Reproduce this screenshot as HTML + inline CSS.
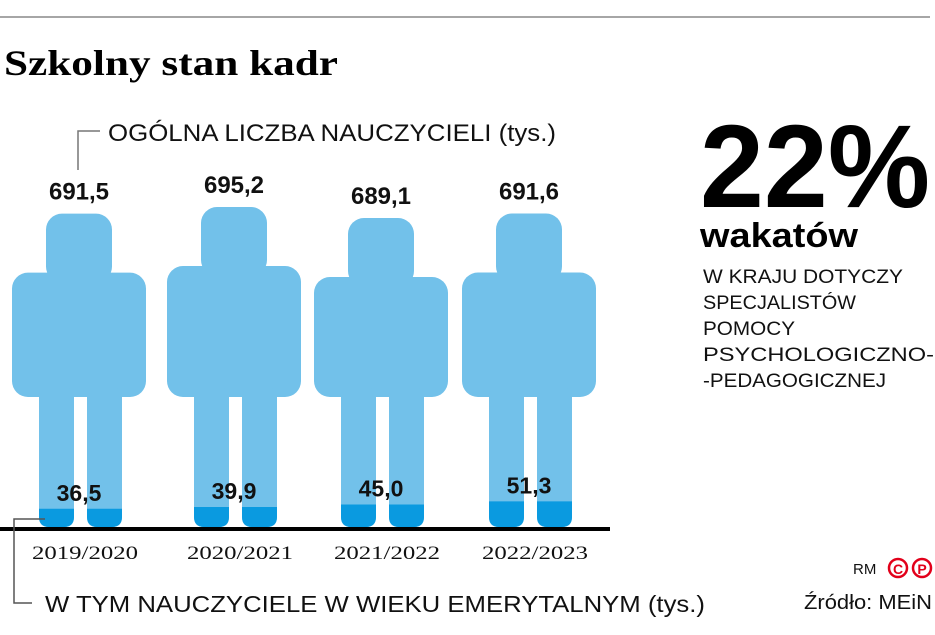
<!DOCTYPE html>
<html><head><meta charset="utf-8"><style>
body{margin:0;background:#fff;}
svg{display:block;font-family:"Liberation Sans",sans-serif;}
</style></head><body>
<svg width="935" height="635" viewBox="0 0 935 635">
<line x1="0" y1="17" x2="930" y2="17" stroke="#888" stroke-width="1.5"/>
<text x="4" y="75" font-family="Liberation Serif,serif" font-weight="bold" font-size="36" textLength="334" lengthAdjust="spacingAndGlyphs">Szkolny stan kadr</text>
<polyline points="78,170 78,131 100,131" fill="none" stroke="#777" stroke-width="1.5"/>
<text x="108" y="141" font-size="25" fill="#111" textLength="448" lengthAdjust="spacingAndGlyphs" style="display:none"></text>
<text x="108" y="141" font-size="24" fill="#111" textLength="448" lengthAdjust="spacingAndGlyphs">OGÓLNA LICZBA NAUCZYCIELI (tys.)</text>
<g id="figs"></g>
<line x1="0" y1="529" x2="610" y2="529" stroke="#000" stroke-width="4"/>
<polyline points="45,519 14,519 14,603 32,603" fill="none" stroke="#555" stroke-width="1.5"/>
<text x="45" y="612" font-size="23" fill="#111" textLength="660" lengthAdjust="spacingAndGlyphs">W TYM NAUCZYCIELE W WIEKU EMERYTALNYM (tys.)</text>
<text x="700" y="207" font-weight="bold" font-size="118" fill="#000" textLength="230" lengthAdjust="spacingAndGlyphs">22%</text>
<text x="700" y="247" font-weight="bold" font-size="34" fill="#000" textLength="158" lengthAdjust="spacingAndGlyphs">wakatów</text>
<g font-size="19" fill="#111">
<text x="703" y="283" textLength="200" lengthAdjust="spacingAndGlyphs">W KRAJU DOTYCZY</text>
<text x="703" y="309" textLength="153" lengthAdjust="spacingAndGlyphs">SPECJALISTÓW</text>
<text x="703" y="335" textLength="92" lengthAdjust="spacingAndGlyphs">POMOCY</text>
<text x="703" y="361" textLength="231" lengthAdjust="spacingAndGlyphs">PSYCHOLOGICZNO-</text>
<text x="703" y="387" textLength="183" lengthAdjust="spacingAndGlyphs">-PEDAGOGICZNEJ</text>
</g>
<text x="853" y="574" font-size="15" fill="#111">RM</text>
<g>
<circle cx="898" cy="568" r="9" fill="none" stroke="#e2001a" stroke-width="2.5"/><text x="898" y="574" font-size="14" font-weight="bold" fill="#e2001a" text-anchor="middle">C</text>
<circle cx="922" cy="568" r="9" fill="none" stroke="#e2001a" stroke-width="2.5"/><text x="922" y="574" font-size="14" font-weight="bold" fill="#e2001a" text-anchor="middle">P</text>
</g>
<text x="932" y="609" font-size="20" fill="#111" text-anchor="end" textLength="128" lengthAdjust="spacingAndGlyphs">Źródło: MEiN</text>
</svg>
<script>
const years = ["2019/2020","2020/2021","2021/2022","2022/2023"];
const totals = [691.5, 695.2, 689.1, 691.6];
const retired = [36.5, 39.9, 45.0, 51.3];
const labelsTotal = ["691,5","695,2","689,1","691,6"];
const labelsRetired = ["36,5","39,9","45,0","51,3"];

const NS="http://www.w3.org/2000/svg";
const g=document.getElementById('figs');
const baseY=527;
const centers=[79,234,381,529];
function topY(v){return 218-(v-689.1)*1.8;}
function retH(v){return v*0.5;}
function mk(tag,attrs){const e=document.createElementNS(NS,tag);for(const k in attrs)e.setAttribute(k,attrs[k]);g.appendChild(e);return e;}
years.forEach((y,i)=>{
  const cx=centers[i]; const t=topY(totals[i]);
  const headH=59, bodyTop=t+headH, bodyBot=397;
  const light="#72c1ea", dark="#0a9ae0";
  let e=mk('rect',{x:cx-33,y:t,width:66,height:headH+10,rx:16,fill:light});
  
  
  e=mk('rect',{x:cx-67,y:bodyTop,width:134,height:bodyBot-bodyTop,rx:16,fill:light});
  
  
  const rh=retH(retired[i]);
  [cx-40,cx+8].forEach(lx=>{
    e=mk('rect',{x:lx,y:bodyBot-10,width:35,height:baseY-bodyBot+10,rx:10,fill:light});
    
    
    e=mk('path',{d:`M${lx},${baseY-rh} H${lx+35} V${baseY-10} Q${lx+35},${baseY} ${lx+25},${baseY} H${lx+10} Q${lx},${baseY} ${lx},${baseY-10} Z`,fill:dark});
    
    
  });
  e=mk('text',{x:cx,y:t-14,'text-anchor':'middle','font-size':24,'font-weight':'bold',fill:'#111'});
  e.textContent=labelsTotal[i];
  
  
  e=mk('text',{x:cx,y:baseY-rh-8,'text-anchor':'middle','font-size':23,'font-weight':'bold',fill:'#111'});
  e.textContent=labelsRetired[i];
  
  
  e=mk('text',{x:cx+6,y:559,'text-anchor':'middle','font-size':19,'font-family':'Liberation Serif,serif',fill:'#111',textLength:106,lengthAdjust:'spacingAndGlyphs'});
  e.textContent=y;
  
  
});
</script>
</body></html>
